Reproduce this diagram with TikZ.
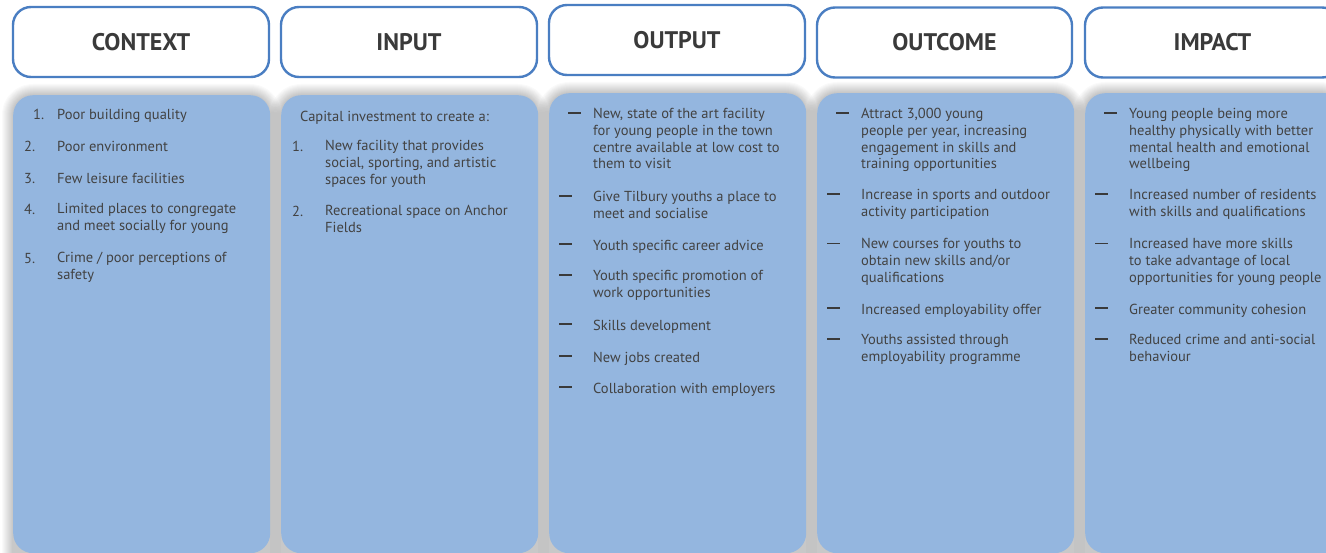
\documentclass[tikz,border=0pt]{standalone}
\usepackage{fontspec}
\setmainfont{PT Sans}
\definecolor{hdrblue}{RGB}{74,126,194}
\definecolor{bodyblue}{RGB}{148,182,223}
\definecolor{txtdark}{RGB}{58,58,58}
\definecolor{txtbody}{RGB}{66,66,66}
\tikzset{
  hdr/.style={draw=hdrblue, line width=2.4pt, rounded corners=18pt, fill=white,
    minimum height=70pt, inner sep=0pt, text=txtdark,
    font=\fontsize{24}{28}\selectfont\bfseries},
  bodybox/.style={fill=bodyblue, rounded corners=20pt, inner sep=0pt},
  itm/.style={anchor=north west, inner sep=0pt, align=left, yshift=5pt,
    text=txtbody, font=\fontsize{14.5}{16.8}\selectfont, execute at begin node=\strut},
  dashmark/.style={line width=1.8pt, draw=txtdark},
  thindash/.style={line width=0.9pt, draw=txtdark},
}
\begin{document}
\begin{tikzpicture}[x=1pt,y=-1pt]
\useasboundingbox (0,0) rectangle (1326,553);
\fill[white] (0,0) rectangle (1326,553);
% shadows
\foreach \a/\b/\c in {13/270/95, 281/538/95, 549/806/93, 817/1074/93, 1085/1340/93}{
  \foreach \i in {1,...,11}{
    \pgfmathsetmacro\rr{20+\i}
    \fill[black, opacity=0.02, rounded corners=\rr pt] ({\a-\i},{\c-\i}) rectangle ({\b+\i},600);
  }
}
% body boxes
\node[bodybox, minimum width=257pt, minimum height=458pt, anchor=north west] (bctx) at (13,95) {};
\node[bodybox, minimum width=257pt, minimum height=458pt, anchor=north west] (binp) at (281,95) {};
\node[bodybox, minimum width=257pt, minimum height=460pt, anchor=north west] (bout) at (549,93) {};
\node[bodybox, minimum width=257pt, minimum height=460pt, anchor=north west] (boc) at (817,93) {};
\node[bodybox, minimum width=260pt, minimum height=460pt, anchor=north west] (bimp) at (1085,93) {};
% headers
\node[hdr, minimum width=256pt] (hctx) at (141,42) {CONTEXT};
\node[hdr, minimum width=256pt] (hinp) at (409,42) {INPUT};
\node[hdr, minimum width=256pt] (hout) at (677,40) {OUTPUT};
\node[hdr, minimum width=255pt] (hoc) at (944.5,42.5) {OUTCOME};
\node[hdr, minimum width=255pt] (himp) at (1212.5,42.5) {IMPACT};
% CONTEXT
\node[itm] (c1n) at (33,113) {1.};
\node[itm] (c1) at (57,113) {Poor building quality};
\node[itm] (c2n) at (24,145) {2.};
\node[itm] (c2) at (57,145) {Poor environment};
\node[itm] (c3n) at (24,177) {3.};
\node[itm] (c3) at (57,177) {Few leisure facilities};
\node[itm] (c4n) at (24,208) {4.};
\node[itm] (c4) at (57,208) {Limited places to congregate\\and meet socially for young};
\node[itm] (c5n) at (24,257) {5.};
\node[itm] (c5) at (57,257) {Crime / poor perceptions of\\safety};
% INPUT
\node[itm] (i0) at (300,115) {Capital investment to create a:};
\node[itm] (i1n) at (292,145) {1.};
\node[itm] (i1) at (325,145) {New facility that provides\\social, sporting, and artistic\\spaces for youth};
\node[itm] (i2n) at (292,210) {2.};
\node[itm] (i2) at (325,210) {Recreational space on Anchor\\Fields};
% OUTPUT
\draw[dashmark] (568,113) -- ++(13,0);
\node[itm] (o1) at (593,113) {New, state of the art facility\\for young people in the town\\centre available at low cost to\\them to visit};
\draw[dashmark] (559,196) -- ++(13,0);
\node[itm] (o2) at (593,196) {Give Tilbury youths a place to\\meet and socialise};
\draw[dashmark] (559,244) -- ++(13,0);
\node[itm] (o3) at (593,244) {Youth specific career advice};
\draw[dashmark] (559,275) -- ++(13,0);
\node[itm] (o4) at (593,275) {Youth specific promotion of\\work opportunities};
\draw[dashmark] (559,324) -- ++(13,0);
\node[itm] (o5) at (593,324) {Skills development};
\draw[dashmark] (559,356) -- ++(13,0);
\node[itm] (o6) at (593,356) {New jobs created};
\draw[dashmark] (559,387) -- ++(13,0);
\node[itm] (o7) at (593,387) {Collaboration with employers};
% OUTCOME
\draw[dashmark] (836,113) -- ++(13,0);
\node[itm] (u1) at (861,113) {Attract 3,000 young\\people per year, increasing\\engagement in skills and\\training opportunities};
\draw[dashmark] (827,194) -- ++(13,0);
\node[itm] (u2) at (861,194) {Increase in sports and outdoor\\activity participation};
\draw[thindash] (827,243) -- ++(13,0);
\node[itm] (u3) at (861,243) {New courses for youths to\\obtain new skills and/or\\qualifications};
\draw[dashmark] (827,308) -- ++(13,0);
\node[itm] (u4) at (861,308) {Increased employability offer};
\draw[dashmark] (827,339) -- ++(13,0);
\node[itm] (u5) at (861,339) {Youths assisted through\\employability programme};
% IMPACT
\draw[dashmark] (1104,113) -- ++(13,0);
\node[itm] (m1) at (1129,113) {Young people being more\\healthy physically with better\\mental health and emotional\\wellbeing};
\draw[dashmark] (1095,194) -- ++(13,0);
\node[itm] (m2) at (1129,194) {Increased number of residents\\with skills and qualifications};
\draw[thindash] (1095,243) -- ++(13,0);
\node[itm] (m3) at (1129,243) {Increased have more skills\\to take advantage of local\\opportunities for young people};
\draw[dashmark] (1095,308) -- ++(13,0);
\node[itm] (m4) at (1129,308) {Greater community cohesion};
\draw[dashmark] (1095,339) -- ++(13,0);
\node[itm] (m5) at (1129,339) {Reduced crime and anti-social\\behaviour};
\end{tikzpicture}
\end{document}
